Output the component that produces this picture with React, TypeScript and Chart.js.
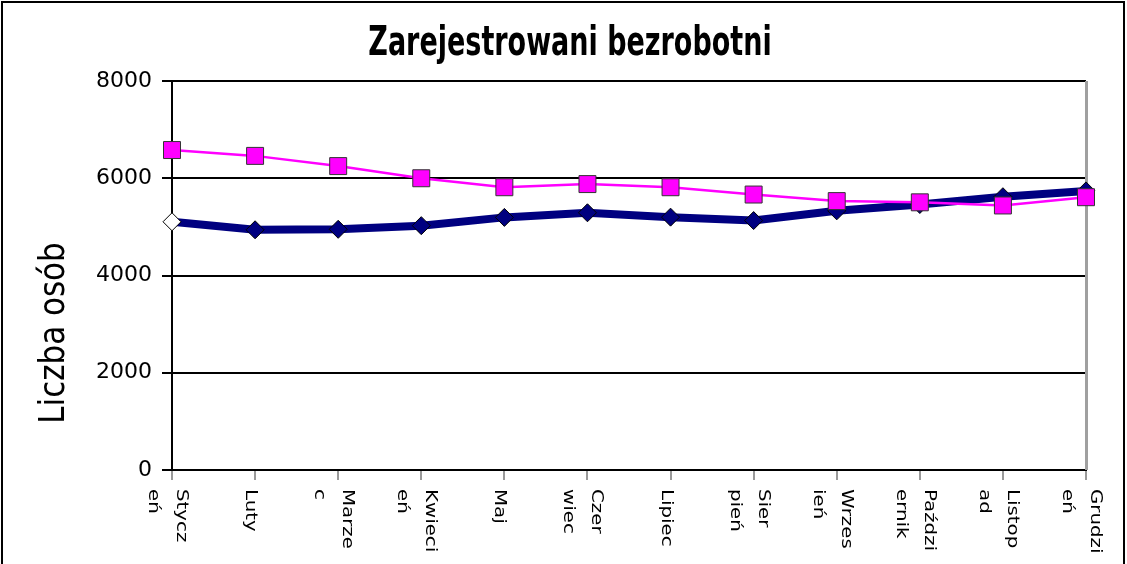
import React, { useEffect, useRef } from 'react';
import { Chart, registerables } from 'chart.js';

Chart.register(...registerables);

const TITLE = 'Zarejestrowani bezrobotni';
const Y_TITLE = 'Liczba osób';
const MONTH_LINES: string[][] = [
  ['Stycz', 'eń'],
  ['Luty'],
  ['Marze', 'c'],
  ['Kwieci', 'eń'],
  ['Maj'],
  ['Czer', 'wiec'],
  ['Lipiec'],
  ['Sier', 'pień'],
  ['Wrzes', 'ień'],
  ['Paździ', 'ernik'],
  ['Listop', 'ad'],
  ['Grudzi', 'eń'],
];
const SERIES_PINK = [6580, 6460, 6250, 6000, 5815, 5880, 5815, 5665, 5530, 5505, 5440, 5610];
const SERIES_NAVY = [5105, 4940, 4950, 5025, 5195, 5290, 5200, 5130, 5330, 5460, 5620, 5740];
const Y_TICKS = [0, 2000, 4000, 6000, 8000];

const decorPlugin = {
  id: 'decor',
  beforeDatasetsDraw(chart: any) {
    const { ctx, chartArea: a } = chart;
    ctx.save();
    ctx.strokeStyle = '#a0a0a0';
    ctx.lineWidth = 3;
    ctx.beginPath();
    ctx.moveTo(a.right + 0.5, a.top);
    ctx.lineTo(a.right + 0.5, a.bottom);
    ctx.stroke();
    ctx.restore();
  },
  afterDraw(chart: any) {
    const { ctx } = chart;
    const xs = chart.scales.x;
    ctx.save();
    // outer frame
    ctx.strokeStyle = '#000';
    ctx.lineWidth = 2;
    ctx.strokeRect(2, 2, chart.width - 5, chart.height + 20);
    ctx.fillStyle = '#000';
    // title
    ctx.save();
    ctx.font = 'bold 27px "DejaVu Sans"';
    ctx.textAlign = 'center';
    ctx.textBaseline = 'alphabetic';
    ctx.translate(570, 55);
    ctx.scale(1, 1.5);
    ctx.fillText(TITLE, 0, 0);
    ctx.restore();
    // y axis title
    ctx.save();
    ctx.font = '31px "DejaVu Sans"';
    ctx.textAlign = 'center';
    ctx.textBaseline = 'alphabetic';
    ctx.translate(64, 333);
    ctx.rotate(-Math.PI / 2);
    ctx.scale(1, 1.15);
    ctx.fillText(Y_TITLE, 0, 0);
    ctx.restore();
    // x labels, rotated clockwise
    ctx.font = '16.5px "DejaVu Sans"';
    ctx.textAlign = 'left';
    ctx.textBaseline = 'alphabetic';
    MONTH_LINES.forEach((lines, i) => {
      const px = xs.getPixelForTick(i);
      lines.forEach((ln, j) => {
        const bx = px - 9 + ((lines.length - 1) / 2) * 28 - j * 28;
        ctx.save();
        ctx.translate(bx, 489);
        ctx.rotate(Math.PI / 2);
        ctx.scale(1.2, 1);
        ctx.fillText(ln, 0, 0);
        ctx.restore();
      });
    });
    ctx.restore();
  },
};

export default function App() {
  const ref = useRef<HTMLCanvasElement | null>(null);
  useEffect(() => {
    if (!ref.current) return;
    const chart = new Chart(ref.current, {
      type: 'line',
      data: {
        labels: MONTH_LINES,
        datasets: [
          {
            label: 'Seria1',
            data: SERIES_PINK,
            borderColor: '#ff00ff',
            borderWidth: 2.5,
            pointStyle: 'rect',
            pointRadius: 12,
            pointBackgroundColor: '#ff00ff',
            pointBorderColor: '#333333',
            pointBorderWidth: 1,
            tension: 0,
            clip: false,
          } as any,
          {
            label: 'Seria2',
            data: SERIES_NAVY,
            borderColor: '#000080',
            borderWidth: 8,
            pointStyle: 'rectRot',
            pointRadius: 9,
            pointBackgroundColor: SERIES_NAVY.map((_, i) => (i === 0 ? '#ffffff' : '#000080')),
            pointBorderColor: '#000000',
            pointBorderWidth: 1,
            tension: 0,
            clip: false,
          } as any,
        ],
      },
      options: {
        responsive: false,
        animation: false,
        layout: { padding: { top: 81, right: 41, left: 0, bottom: 0 } },
        plugins: {
          legend: { display: false },
          title: { display: false },
          tooltip: { enabled: false },
        },
        scales: {
          x: {
            type: 'category',
            offset: false,
            grid: {
              drawOnChartArea: false,
              drawTicks: true,
              tickLength: 10,
              tickColor: '#9a9a9a',
              lineWidth: 2,
            },
            border: { display: true, color: '#000', width: 2 },
            ticks: { display: false },
            afterFit: (s: any) => {
              s.height = 94;
            },
          },
          y: {
            min: 0,
            max: 8000,
            afterBuildTicks: (s: any) => {
              s.ticks = Y_TICKS.map((v) => ({ value: v }));
            },
            ticks: {
              font: { family: 'DejaVu Sans', size: 22 },
              color: '#000',
              padding: 10,
              callback: (v: any) => String(v),
            },
            grid: { color: '#000', lineWidth: 2, tickLength: 10, tickColor: '#000' },
            border: { display: true, color: '#000', width: 2 },
            afterFit: (s: any) => {
              s.width = 172;
            },
          },
        },
      } as any,
      plugins: [decorPlugin],
    });
    return () => chart.destroy();
  }, []);
  return (
    <div style={{ position: 'fixed', left: 0, top: 0, width: 1127, height: 564, background: '#fff' }}>
      <canvas ref={ref} width={1127} height={564} style={{ display: 'block' }} />
    </div>
  );
}
